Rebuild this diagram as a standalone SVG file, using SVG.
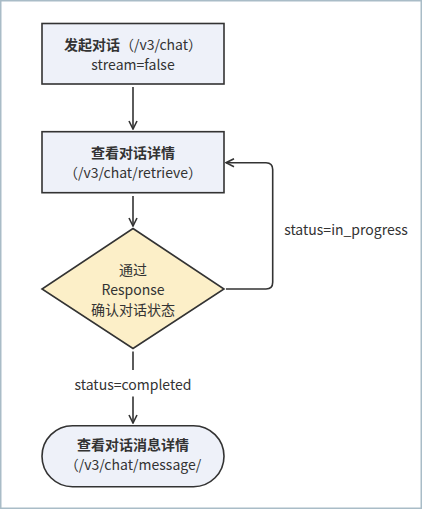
<svg xmlns="http://www.w3.org/2000/svg" width="422" height="509" viewBox="0 0 422 509">
<style>
text{font-family:"Noto Sans CJK SC","Noto Sans",sans-serif;font-size:14px;fill:#333;text-anchor:middle}
.b{font-weight:bold}
.node{stroke:#333;stroke-width:1.6}
.box{fill:#eef1f9}
.dec{fill:#fcefc8}
.edge{fill:none;stroke:#333;stroke-width:1.6}
</style>
<defs>
<marker id="arr" viewBox="0 0 10 10" refX="9" refY="5" markerWidth="10" markerHeight="10" markerUnits="userSpaceOnUse" orient="auto">
<path d="M1,1 L9,5 L1,9" fill="none" stroke="#333" stroke-width="1.6"/>
</marker>
</defs>
<rect x="0" y="0" width="422" height="509" fill="#fff"/>
<rect x="0.75" y="0.75" width="420.5" height="507.5" fill="none" stroke="#a9bcc7" stroke-width="1.5"/>
<g id="n1">
<rect class="node box" x="42" y="23.5" width="182" height="60.5"/>
<text class="b" x="133" y="50">发起对话<tspan font-weight="normal">（/v3/chat）</tspan></text>
<text x="133" y="70">stream=false</text>
</g>
<g id="n2">
<rect class="node box" x="42" y="131.7" width="182" height="61"/>
<text class="b" x="133" y="158">查看对话详情</text>
<text x="133" y="178">（/v3/chat/retrieve）</text>
</g>
<g id="n3">
<polygon class="node dec" points="133,228.5 224,289 133,348.5 42,289"/>
<text x="133" y="275">通过</text>
<text x="133" y="295">Response</text>
<text x="133" y="315">确认对话状态</text>
</g>
<g id="n4">
<rect class="node box" x="42" y="425.7" width="182" height="61" rx="30.5" ry="30.5"/>
<text class="b" x="133" y="450">查看对话消息详情</text>
<text x="133" y="470">（/v3/chat/message/</text>
</g>
<g id="edges">
<path class="edge" d="M133,87 V129" marker-end="url(#arr)"/>
<path class="edge" d="M133,196 V226" marker-end="url(#arr)"/>
<path class="edge" d="M226,289 H266 Q272.7,289 272.7,282.3 V169.5 Q272.7,162.7 266,162.7 H226" marker-end="url(#arr)"/>
<text x="346" y="235">status=in_progress</text>
<path class="edge" d="M133,351.5 V370"/>
<text x="133" y="390">status=completed</text>
<path class="edge" d="M133,396.5 V423" marker-end="url(#arr)"/>
</g>
</svg>
